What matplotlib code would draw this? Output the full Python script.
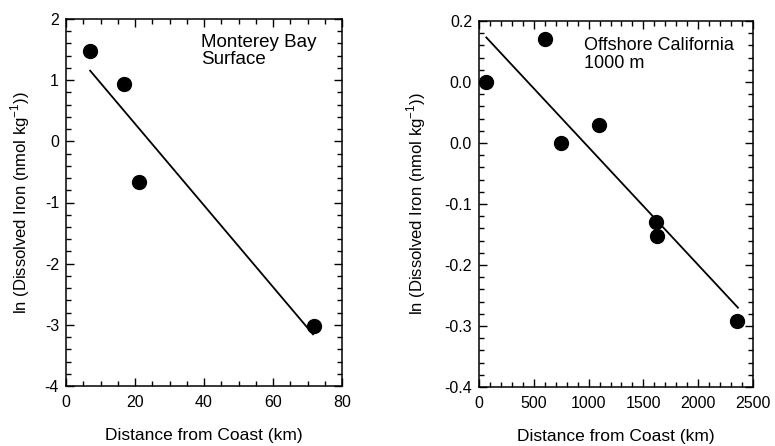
import matplotlib
matplotlib.use("Agg")
import matplotlib.pyplot as plt
from matplotlib.ticker import MultipleLocator, FixedLocator

plt.rcParams['font.family'] = ['Liberation Sans', 'DejaVu Sans']
plt.rcParams['axes.unicode_minus'] = False

# Left panel: Monterey Bay surface
mb_dist = [7.0, 16.7, 21.3, 71.8]
mb_lnfe = [1.48, 0.93, -0.66, -3.02]
mb_fit_x = [7.0, 71.6]
mb_fit_y = [1.155, -3.155]

# Right panel: Offshore California 1000 m
oc_dist = [67, 605, 745, 1095, 1618, 1624, 2357]
oc_lnfe = [0.100, 0.170, 0.000, 0.029, -0.130, -0.152, -0.292]
oc_fit_x = [67, 2363]
oc_fit_y = [0.173, -0.270]

oc_yticks = [0.2, 0.1, 0.0, -0.1, -0.2, -0.3, -0.4]
oc_yticklabels = ['0.2', '0.0', '0.0', '-0.1', '-0.2', '-0.3', '-0.4']

W, H = 775, 446
fig = plt.figure(figsize=(W/100, H/100), dpi=100)

ax1 = fig.add_axes([66/W, 1-386/H, (342-66)/W, (386-19)/H])
ax2 = fig.add_axes([479/W, 1-387/H, (753-479)/W, (387-21)/H])

ylabel = r'ln (Dissolved Iron (nmol kg$^{\mathregular{-1}}$))'

for ax in (ax1, ax2):
    ax.tick_params(which='both', direction='in', top=True, right=True, labelsize=11.5, colors='black')
    ax.tick_params(axis='x', which='major', pad=6.5)
    ax.tick_params(axis='y', which='major', pad=5)
    ax.tick_params(which='major', length=6, width=1)
    ax.tick_params(which='minor', length=3.5, width=1)
    for s in ax.spines.values():
        s.set_linewidth(1.1)
    ax.set_xlabel('Distance from Coast (km)', fontsize=12.5)
    ax.set_ylabel(ylabel, fontsize=12)
    ax.xaxis.set_label_coords(0.5, -0.115)

ax1.yaxis.set_label_coords(-0.123, 0.5)
ax2.yaxis.set_label_coords(-0.186, 0.5)

# Left
ax1.plot(mb_fit_x, mb_fit_y, color='black', lw=1.3)
ax1.plot(mb_dist, mb_lnfe, 'o', color='black', ms=10)
ax1.set_xlim(0, 80)
ax1.set_ylim(-4, 2)
ax1.xaxis.set_major_locator(MultipleLocator(20))
ax1.xaxis.set_minor_locator(MultipleLocator(5))
ax1.yaxis.set_major_locator(MultipleLocator(1))
ax1.yaxis.set_minor_locator(MultipleLocator(0.2))
ax1.text(0.49, 0.96, 'Monterey Bay\nSurface', transform=ax1.transAxes,
         fontsize=13.5, va='top', ha='left', linespacing=1.05)

# Right
ax2.plot(oc_fit_x, oc_fit_y, color='black', lw=1.3)
ax2.plot(oc_dist, oc_lnfe, 'o', color='black', ms=10)
ax2.set_xlim(0, 2500)
ax2.set_ylim(-0.4, 0.2)
ax2.xaxis.set_major_locator(MultipleLocator(500))
ax2.xaxis.set_minor_locator(MultipleLocator(100))
ax2.yaxis.set_major_locator(FixedLocator(oc_yticks))
ax2.set_yticklabels(oc_yticklabels)
ax2.yaxis.set_minor_locator(MultipleLocator(0.02))
ax2.text(0.385, 0.955, 'Offshore California\n1000 m', transform=ax2.transAxes,
         fontsize=13, va='top', ha='left', linespacing=1.05)

fig.savefig('out.png', dpi=100)
